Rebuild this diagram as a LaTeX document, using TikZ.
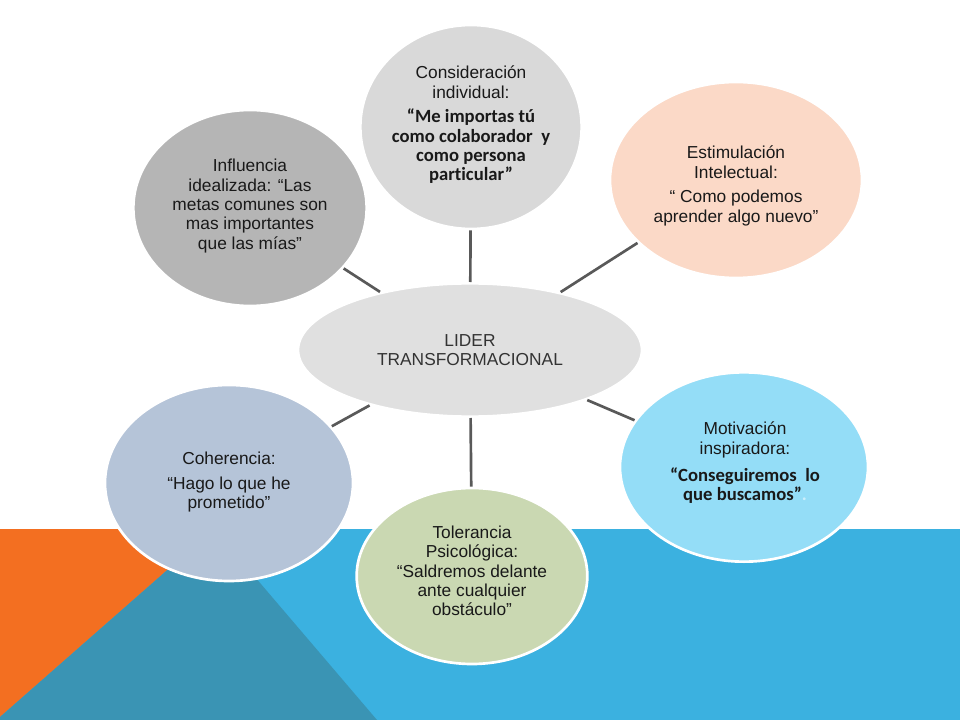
\documentclass[tikz,border=0pt]{standalone}
\usepackage{fontspec}
\setmainfont{Liberation Sans}
\newfontfamily\quotefont[Ligatures=NoCommon]{Carlito}
\usetikzlibrary{shapes.geometric}
\definecolor{bandorange}{HTML}{F36F21}
\definecolor{bandteal}{HTML}{3A94B4}
\definecolor{bandblue}{HTML}{3BB1E0}
\definecolor{linkgray}{HTML}{595959}
\newcommand{\qt}{\quotefont\bfseries\fontsize{14}{15}\selectfont}
\tikzset{bubble/.style={ellipse, draw=white, line width=2pt, inner sep=0pt},
         bubbletext/.style={align=center, text=black!90, font=\fontsize{13}{14.5}\selectfont},
         link/.style={draw=linkgray, line width=2pt}}

\begin{document}
\begin{tikzpicture}[x=0.75pt, y=-0.75pt]
    \useasboundingbox (0, 0) rectangle (960, 720);
    % background band
    \fill[bandblue] (0, 529) rectangle (960, 720);
    \fill[bandorange] (0, 529) -- (214, 529) -- (0, 717) -- cycle;
    \fill[bandteal] (0, 717) -- (214, 529) -- (377, 720) -- (0, 720) -- cycle;
    % bubbles
    \node[bubble, fill=black!12, minimum width=258pt, minimum height=100pt] (lider) at (470, 350) {};
    \node[bubble, fill=black!15, minimum width=166pt, minimum height=153pt] (consid) at (471, 127) {};
    \node[bubble, fill=black!29, minimum width=175pt, minimum height=147pt] (influ) at (250, 208) {};
    \node[bubble, fill={rgb,255:red,251;green,217;blue,199}, minimum width=189pt, minimum height=147pt] (estim) at (736, 180) {};
    \node[bubble, fill={rgb,255:red,148;green,221;blue,247}, minimum width=186pt, minimum height=142pt] (motiv) at (744, 467) {};
    \node[bubble, fill={rgb,255:red,202;green,216;blue,178}, minimum width=173pt, minimum height=132pt] (toler) at (472, 576) {};
    \node[bubble, fill={rgb,255:red,181;green,196;blue,216}, minimum width=186pt, minimum height=147pt] (coher) at (229, 483) {};
    % links
    \foreach \outer in {consid, influ, estim, motiv, toler, coher} {
        \draw[link] (lider) -- (\outer);
    }
    % texts
    \node[bubbletext, text=black!80] (lider-txt) at (lider) {LIDER\\TRANSFORMACIONAL};
    \node[bubbletext] (consid-txt) at (471, 125) {Consideración\\individual:\\[4pt]
        \qt “Me importas tú\\\qt como colaborador~ y\\\qt como persona\\\qt particular”};
    \node[bubbletext] (influ-txt) at (250, 206) {Influencia\\idealizada: “Las\\metas comunes son\\mas importantes\\que las mías”};
    \node[bubbletext] (estim-txt) at (736, 186) {Estimulación\\Intelectual:\\[4pt]“ Como podemos\\aprender algo nuevo”};
    \node[bubbletext] (motiv-txt) at (745, 463) {Motivación\\inspiradora:\\[6pt]
        \qt “Conseguiremos~ lo\\\qt que buscamos”\textcolor{white!80!cyan}{.}};
    \node[bubbletext] (toler-txt) at (472, 571) {Tolerancia\\Psicológica:\\“Saldremos delante\\ante cualquier\\obstáculo”};
    \node[bubbletext] (coher-txt) at (229, 482) {Coherencia:\\[4pt]“Hago lo que he\\prometido”};
\end{tikzpicture}
\end{document}
